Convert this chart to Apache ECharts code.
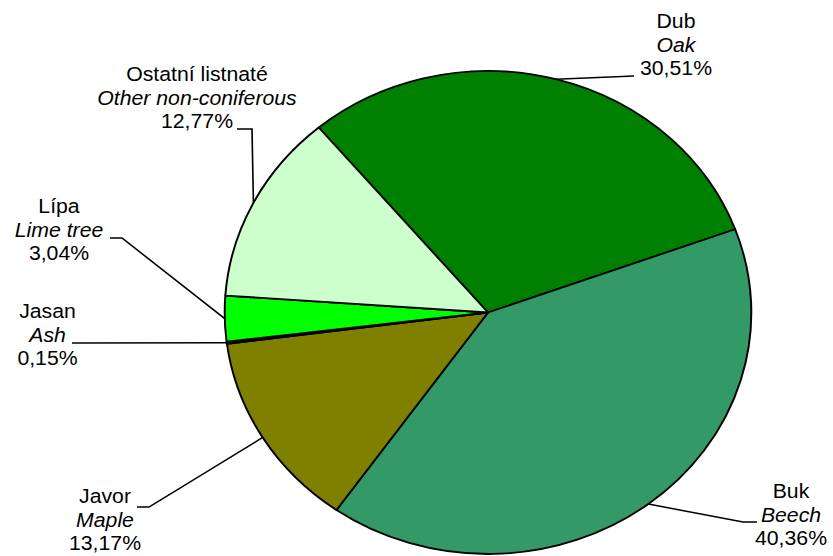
<!DOCTYPE html>
<html><head><meta charset="utf-8">
<script src="https://cdn.jsdelivr.net/npm/echarts@6/dist/echarts.min.js"></script>
<style>
html,body{margin:0;padding:0;background:#fff;overflow:hidden;}
#wrap{width:833px;height:556px;overflow:hidden;position:relative;}
#chart{width:764px;height:556px;transform:scaleX(1.09031);transform-origin:0 0;}
</style></head><body><div id="wrap"><div id="chart"></div></div>
<script>
// ---- data ----
const namesCz = ['Dub', 'Buk', 'Javor', 'Jasan', 'Lípa', 'Ostatní listnaté'];
const namesEn = ['Oak', 'Beech', 'Maple', 'Ash', 'Lime tree', 'Other non-coniferous'];
const shares = [30.51, 40.36, 13.17, 0.15, 3.04, 12.77];
const colors = ['#008000', '#339966', '#808000', '#1a1a40', '#00ff00', '#ccffcc'];

// ---- layout (picture pixels) ----
const SX = 833 / 764;
const CX = 488, CY = 312.5, R = 241.5, START = 130;
const labelPlaces = [
  { cx: 676, top: 10, end: [634, 76], bend: null },
  { cx: 791, top: 480, end: [757, 522], bend: [743, 522] },
  { cx: 105, top: 485, end: [137, 507], bend: [149, 507] },
  { cx: 47.5, top: 300, end: [72, 343], bend: null },
  { cx: 59, top: 195, end: [110, 238], bend: [122, 238] },
  { cx: 197, top: 63, end: [237, 129], bend: [252, 129] }
];

const fmtPct = v => v.toFixed(2).replace('.', ',') + '%';
const font = 'Liberation Sans, Arial, sans-serif';
const total = shares.reduce((a, b) => a + b, 0);

function edgePoint(i) {
  let cum = 0;
  for (let k = 0; k < i; k++) cum += shares[k];
  const frac = (cum + shares[i] / 2) / total;
  const th = ((90 - START) + frac * 360) * Math.PI / 180;
  return [CX / SX + R * Math.sin(th), CY - R * Math.cos(th)];
}

const chart = echarts.init(document.getElementById('chart'), null, { renderer: 'svg' });
chart.setOption({
  animation: false,
  backgroundColor: '#ffffff',
  series: [{
    type: 'pie',
    center: [CX / SX, CY],
    radius: R,
    startAngle: START,
    clockwise: true,
    avoidLabelOverlap: false,
    minShowLabelAngle: 0,
    data: shares.map((v, i) => ({
      value: v,
      name: namesCz[i],
      itemStyle: { color: colors[i] }
    })),
    itemStyle: { borderColor: '#000', borderWidth: 1.8 },
    emphasis: { disabled: true },
    label: {
      show: true,
      position: 'outer',
      color: '#000',
      align: 'center',
      formatter: p => '{n|' + namesCz[p.dataIndex] + '}\n{i|' + namesEn[p.dataIndex] + '}\n{n|' + fmtPct(p.value) + '}',
      rich: {
        n: { fontFamily: font, fontSize: 19.5, lineHeight: 23.3, color: '#000', align: 'center' },
        i: { fontFamily: font, fontSize: 19.5, lineHeight: 23.3, color: '#000', fontStyle: 'italic', align: 'center' }
      }
    },
    labelLine: {
      show: true,
      length: 10,
      length2: 10,
      lineStyle: { color: '#000', width: 1.5 }
    },
    labelLayout: function (p) {
      const L = labelPlaces[p.dataIndex];
      const p0 = (p.labelLinePoints && p.labelLinePoints[0]) ? p.labelLinePoints[0] : edgePoint(p.dataIndex);
      const pts = [p0];
      if (L.bend) pts.push([L.bend[0] / SX, L.bend[1]]);
      pts.push([L.end[0] / SX, L.end[1]]);
      return {
        x: L.cx / SX,
        y: L.top,
        align: 'center',
        verticalAlign: 'top',
        labelLinePoints: pts
      };
    }
  }]
});
</script>
</body></html>
